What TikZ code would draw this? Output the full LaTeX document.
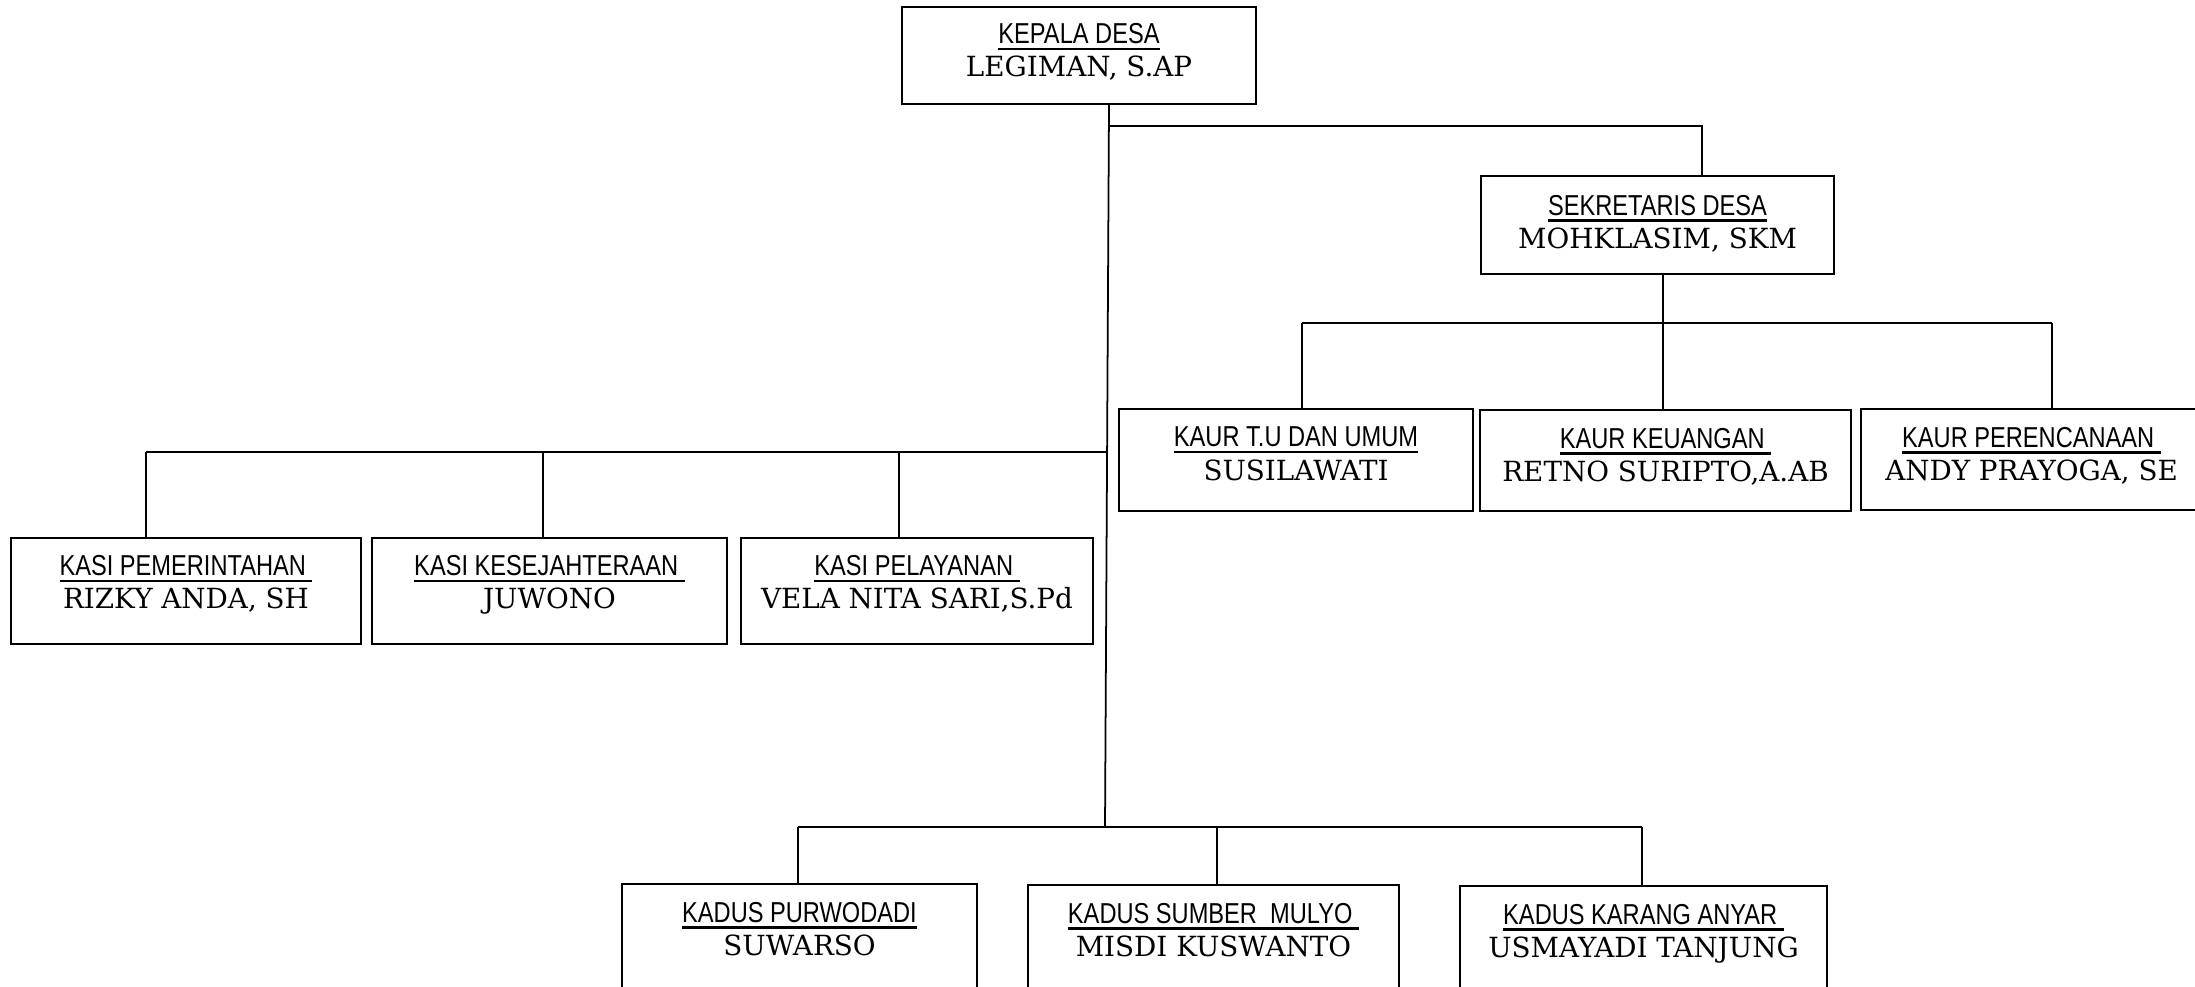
\documentclass[tikz,border=0pt]{standalone}
\usepackage{fontspec}
\usetikzlibrary{positioning,fit}
\newfontfamily\jabfont[FakeStretch=0.82]{Liberation Sans}
\newfontfamily\nmfont{DejaVu Serif}
\newcommand{\jab}[1]{{\jabfont\fontsize{8.2}{9.5}\selectfont\setbox0\hbox{#1}\rlap{\rule[-1.9pt]{\wd0}{0.7pt}}\box0}}
\newcommand{\nm}[1]{{\nmfont\fontsize{7.9}{9.5}\selectfont #1}}
\tikzset{
    kotak/.style={draw, line width=0.7pt, inner sep=0pt},
    isi/.style={align=center, inner sep=0pt, font=\fontsize{8}{9.5}\selectfont},
    garis/.style={line width=0.5pt},
    tebal/.style={line width=0.8pt}
}
\begin{document}
\begin{tikzpicture}[x=0.1mm, y=-0.1mm]
    \useasboundingbox (0,0) rectangle (2195,986);

    % kepala dan sekretaris
    \node[kotak, fit={(902,7) (1256,104)}] (kades) {};
    \node[isi, below=1.7mm of kades.north] (kades-t) {\jab{KEPALA DESA}\\\nm{LEGIMAN, S.AP}};
    \node[kotak, fit={(1481,176) (1834,274)}] (sekdes) {};
    \node[isi, below=1.95mm of sekdes.north] (sekdes-t) {\jab{SEKRETARIS DESA}\\\nm{MOHKLASIM, SKM}};

    % kaur
    \node[kotak, fit={(1119,409) (1473,511)}] (kaur1) {};
    \node[isi, below=1.85mm of kaur1.north] (kaur1-t) {\jab{KAUR T.U DAN UMUM}\\\nm{SUSILAWATI}};
    \node[kotak, fit={(1480,410) (1851,511)}] (kaur2) {};
    \node[isi, below=1.85mm of kaur2.north] (kaur2-t) {\jab{KAUR KEUANGAN\ }\\\nm{RETNO SURIPTO,A.AB}};
    \node[kotak, fit={(1861,409) (2202,510)}] (kaur3) {};
    \node[isi, below=1.85mm of kaur3.north] (kaur3-t) {\jab{KAUR PERENCANAAN\ }\\\nm{ANDY PRAYOGA, SE}};

    % kasi
    \node[kotak, fit={(11,538) (361,644)}] (kasi1) {};
    \node[isi, below=1.8mm of kasi1.north] (kasi1-t) {\jab{KASI PEMERINTAHAN\ }\\\nm{RIZKY ANDA, SH}};
    \node[kotak, fit={(372,538) (727,644)}] (kasi2) {};
    \node[isi, below=1.8mm of kasi2.north] (kasi2-t) {\jab{KASI KESEJAHTERAAN\ }\\\nm{JUWONO}};
    \node[kotak, fit={(741,538) (1093,644)}] (kasi3) {};
    \node[isi, below=1.8mm of kasi3.north] (kasi3-t) {\jab{KASI PELAYANAN\ }\\\nm{VELA NITA SARI,S.Pd}};

    % kadus
    \node[kotak, fit={(622,884) (977,1000)}] (kadus1) {};
    \node[isi, below=1.85mm of kadus1.north] (kadus1-t) {\jab{KADUS PURWODADI}\\\nm{SUWARSO}};
    \node[kotak, fit={(1028,885) (1399,1000)}] (kadus2) {};
    \node[isi, below=1.85mm of kadus2.north] (kadus2-t) {\jab{KADUS SUMBER\ \ MULYO\ }\\\nm{MISDI KUSWANTO}};
    \node[kotak, fit={(1460,886) (1827,1000)}] (kadus3) {};
    \node[isi, below=1.85mm of kadus3.north] (kadus3-t) {\jab{KADUS KARANG ANYAR\ }\\\nm{USMAYADI TANJUNG}};

    % garis
    \coordinate (kaki) at (1105,827);
    \draw[garis] (1109,0 |- kades.south) -- (kaki);
    \draw[garis] (1109,126) -| (1702,0 |- sekdes.north);
    \draw[garis] (1663,0 |- sekdes.south) -- (1663,323);
    \draw[tebal] (1302,323) -- (2052,323);
    \foreach \x/\n in {1302/kaur1, 1663/kaur2, 2052/kaur3}
        \draw[garis] (\x,323) -- (\x,0 |- \n.north);
    \draw[tebal] (146,452) -- (1107,452);
    \foreach \x/\n in {146/kasi1, 543/kasi2, 899/kasi3}
        \draw[garis] (\x,452) -- (\x,0 |- \n.north);
    \draw[garis] (798,827) -- (1642,827);
    \foreach \x/\n in {798/kadus1, 1217/kadus2, 1642/kadus3}
        \draw[garis] (\x,827) -- (\x,0 |- \n.north);

\end{tikzpicture}
\end{document}
